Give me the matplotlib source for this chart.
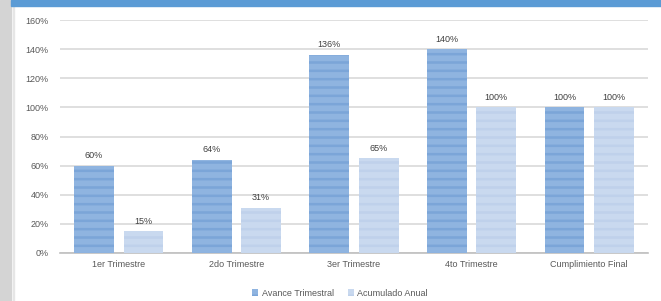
import matplotlib
matplotlib.use("Agg")
import matplotlib.pyplot as plt
from matplotlib.patches import Rectangle
import numpy as np

categories = ["1er Trimestre", "2do Trimestre", "3er Trimestre", "4to Trimestre", "Cumplimiento Final"]
avance_trimestral = [60, 64, 136, 140, 100]
acumulado_anual = [15, 31, 65, 100, 100]
series_names = ["Avance Trimestral", "Acumulado Anual"]
yticks = [0, 20, 40, 60, 80, 100, 120, 140, 160]

plt.rcParams['font.family'] = ['Liberation Sans', 'DejaVu Sans']
plt.rcParams['hatch.linewidth'] = 1.8

fig = plt.figure(figsize=(6.61, 3.01), dpi=100)
# decorations: gray left border and blue top band
fig.patches.append(Rectangle((0, 0), 11/661, 1, transform=fig.transFigure, color="#d4d4d4", zorder=0))
fig.patches.append(Rectangle((13/661, 0), 1/661, 1, transform=fig.transFigure, color="#e6e6e6", zorder=0))
fig.patches.append(Rectangle((11/661, 1-6/301), 1, 6/301, transform=fig.transFigure, color="#5b9bd5", zorder=0))

ax = fig.add_axes([60/661, 1-253/301, 588/661, 233/301])
x = np.arange(len(categories))
w = 0.34
off = 0.21
dark = "#8fb4e0"
dark_h = "#7ba5d8"
light = "#c9d9ef"
light_h = "#bfd1eb"
b1 = ax.bar(x - off, avance_trimestral, w, color=dark, edgecolor=dark_h, hatch='--', linewidth=0, label=series_names[0], zorder=3)
b2 = ax.bar(x + off, acumulado_anual, w, color=light, edgecolor=light_h, hatch='--', linewidth=0, label=series_names[1], zorder=3)

for rects, vals in ((b1, avance_trimestral), (b2, acumulado_anual)):
    for r, v in zip(rects, vals):
        ax.annotate(f"{v}%", (r.get_x() + r.get_width()/2, v), xytext=(0, 4), textcoords="offset points",
                    ha="center", va="bottom", fontsize=6.5, color="#404040")

ax.set_xlim(-0.5, len(categories) - 0.5)
ax.set_ylim(0, 160)
ax.set_yticks(yticks)
ax.set_yticklabels([f"{t}%" for t in yticks])
ax.set_xticks(x)
ax.set_xticklabels(categories)
ax.tick_params(axis='both', length=0, labelsize=6.5, labelcolor="#595959")
ax.tick_params(axis='y', pad=8)
ax.tick_params(axis='x', pad=5)
ax.grid(axis='y', color="#d9d9d9", linewidth=1.2, zorder=0)
ax.set_axisbelow(True)
for s in ("top", "right", "left"):
    ax.spines[s].set_visible(False)
ax.spines["bottom"].set_color("#bfbfbf")
ax.spines["bottom"].set_linewidth(1.2)

leg = fig.legend(handles=[b1, b2], loc="center", bbox_to_anchor=(340/661, 1-293/301), ncol=2, frameon=False,
                 fontsize=6.5, handlelength=0.7, handleheight=0.7, handletextpad=0.4, columnspacing=1.5)
for t in leg.get_texts():
    t.set_color("#595959")

fig.savefig("out.png", dpi=100)
